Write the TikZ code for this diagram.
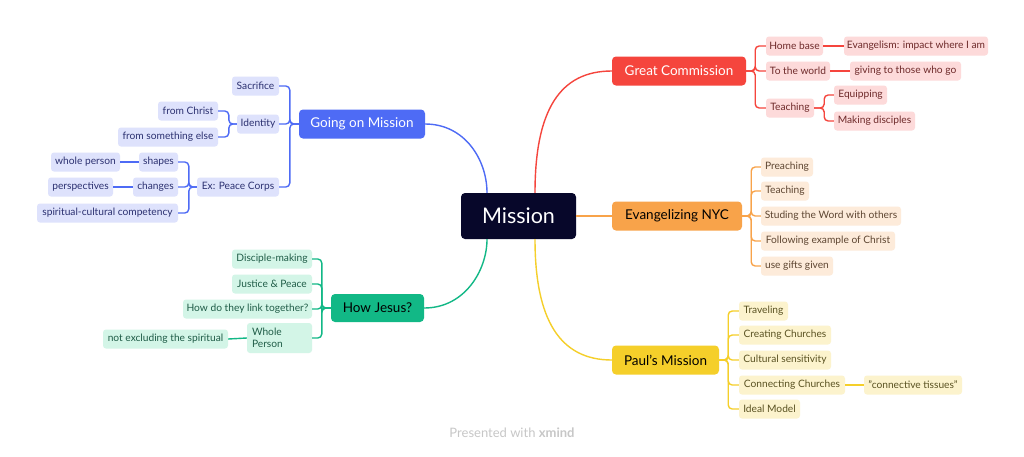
\documentclass[tikz,border=0pt]{standalone}
\usepackage{fontspec}
\setmainfont{Lato}
\definecolor{navy}{HTML}{07072A}
\definecolor{cred}{HTML}{F5453D}
\definecolor{cblue}{HTML}{4E6BF5}
\definecolor{corange}{HTML}{F8A34A}
\definecolor{cyellow}{HTML}{F5CF2A}
\definecolor{cgreen}{HTML}{12B886}
\definecolor{fred}{HTML}{FDDADA}
\definecolor{fblue}{HTML}{DEE2FC}
\definecolor{forange}{HTML}{FDEBDA}
\definecolor{fyellow}{HTML}{FCF3CD}
\definecolor{fgreen}{HTML}{D3F5E7}
\definecolor{tred}{HTML}{6E2A2A}
\definecolor{tblue}{HTML}{2B3070}
\definecolor{torange}{HTML}{5E4632}
\definecolor{tyellow}{HTML}{5A5222}
\definecolor{tgreen}{HTML}{1F5C47}
\tikzset{
  box/.style={rounded corners=3pt, inner sep=0pt, align=center, minimum height=19pt},
  sub/.style={box, font=\fontsize{10.2}{11.5}\selectfont},
  topic/.style={box, rounded corners=4pt, minimum height=29pt, font=\fontsize{13.5}{15}\selectfont},
  rsub/.style={sub, fill=fred, text=tred},
  bsub/.style={sub, fill=fblue, text=tblue},
  osub/.style={sub, fill=forange, text=torange},
  ysub/.style={sub, fill=fyellow, text=tyellow},
  gsub/.style={sub, fill=fgreen, text=tgreen},
  rl/.style={draw=cred, line width=1.4pt, rounded corners=4pt},
  bl/.style={draw=cblue, line width=1.4pt, rounded corners=4pt},
  ol/.style={draw=corange, line width=1.4pt, rounded corners=4pt},
  yl/.style={draw=cyellow, line width=1.4pt, rounded corners=4pt},
  gl/.style={draw=cgreen, line width=1.4pt, rounded corners=4pt},
}
\begin{document}
\begin{tikzpicture}[x=1pt,y=-1pt]
\useasboundingbox[fill=white] (0,0) rectangle (1024,456);
% central
\node[box, fill=navy, text=white, rounded corners=4pt, minimum width=115pt, minimum height=46pt, font=\fontsize{21.5}{25}\selectfont] (m) at (518.5,216) {Mission};
% topics
\node[topic, fill=cred, text=white, minimum width=134pt] (gc) at (679,71) {Great Commission};
\node[topic, fill=corange, text=black, minimum width=130pt] (en) at (677,216) {Evangelizing NYC};
\node[topic, fill=cyellow, text=black, minimum width=107pt] (pm) at (665.5,360) {Paul's Mission};
\node[topic, fill=cblue, text=white, minimum width=126pt] (gm) at (362,124) {Going on Mission};
\node[topic, fill=cgreen, text=black, minimum width=93pt, minimum height=28pt] (hj) at (377.5,308) {How Jesus?};
% central connectors
\draw[rl] ([xshift=16.5pt]m.north) .. controls (535,110) and (560,71) .. (gc.west);
\draw[ol] (m.east) -- (en.west);
\draw[yl] ([xshift=16.5pt]m.south) .. controls (535,320) and (560,360) .. (pm.west);
\draw[bl] ([xshift=-31.5pt]m.north) .. controls (487,160) and (465,124) .. (gm.east);
\draw[gl] ([xshift=-31.5pt]m.south) .. controls (487,270) and (465,308) .. (hj.east);
% red
\node[rsub, minimum width=57pt] (hb) at (794.5,46) {Home base};
\node[rsub, minimum width=144pt] (ev) at (916,46) {Evangelism: impact where I am};
\node[rsub, minimum width=64pt] (tw) at (798,71) {To the world};
\node[rsub, minimum width=111pt] (gv) at (905.5,71) {giving to those who go};
\node[rsub, minimum width=48pt] (te) at (790,108) {Teaching};
\node[rsub, minimum width=53pt] (eq) at (860.5,95) {Equipping};
\node[rsub, minimum width=81pt] (md) at (874.5,121) {Making disciples};
\foreach \c in {hb,tw,te} \draw[rl] (gc.east) -- ++(9,0) |- (\c.west);
\draw[rl] (hb.east) -- (ev.west);
\draw[rl] (tw.east) -- (gv.west);
\foreach \c in {eq,md} \draw[rl] (te.east) -- ++(10,0) |- (\c.west);
% orange
\node[osub, minimum width=52pt] (o1) at (787,167) {Preaching};
\node[osub, minimum width=48pt] (o2) at (785,191) {Teaching};
\node[osub, minimum width=140pt] (o3) at (831,216) {Studing the Word with others};
\node[osub, minimum width=134pt] (o4) at (828,241) {Following example of Christ};
\node[osub, minimum width=72pt] (o5) at (797,266) {use gifts given};
\foreach \c in {o1,o2,o3,o4,o5} \draw[ol] (en.east) -- ++(9,0) |- (\c.west);
% yellow
\node[ysub, minimum width=49pt] (y1) at (763.5,311) {Traveling};
\node[ysub, minimum width=92pt] (y2) at (785,335) {Creating Churches};
\node[ysub, minimum width=92pt] (y3) at (785,360) {Cultural sensitivity};
\node[ysub, minimum width=106pt] (y4) at (792,385) {Connecting Churches};
\node[ysub, minimum width=98pt] (y6) at (913,385) {"connective tissues"};
\node[ysub, minimum width=61pt] (y5) at (769.5,409) {Ideal Model};
\foreach \c in {y1,y2,y3,y4,y5} \draw[yl] (pm.east) -- ++(9,0) |- (\c.west);
\draw[yl] (y4.east) -- (y6.west);
% blue
\node[bsub, minimum width=47pt] (sa) at (255.5,86) {Sacrifice};
\node[bsub, minimum width=42pt] (id) at (258,124) {Identity};
\node[bsub, minimum width=82pt] (pc) at (238,187) {Ex: Peace Corps};
\node[bsub, minimum width=60pt] (fc) at (188,111) {from Christ};
\node[bsub, minimum width=100pt] (fs) at (168,137) {from something else};
\node[bsub, minimum width=39pt] (sh) at (158.5,162) {shapes};
\node[bsub, minimum width=45pt] (ch) at (155.5,187) {changes};
\node[bsub, minimum width=141pt] (sp) at (107.5,213) {spiritual-cultural competency};
\node[bsub, minimum width=69pt] (wp) at (85.5,162) {whole person};
\node[bsub, minimum width=65pt] (pe) at (80.5,187) {perspectives};
\foreach \c in {sa,id,pc} \draw[bl] (gm.west) -- ++(-9,0) |- (\c.east);
\foreach \c in {fc,fs} \draw[bl] (id.west) -- ++(-8,0) |- (\c.east);
\foreach \c in {sh,ch,sp} \draw[bl] (pc.west) -- ++(-8,0) |- (\c.east);
\draw[bl] (sh.west) -- (wp.east);
\draw[bl] (ch.west) -- (pe.east);
% green
\node[gsub, minimum width=80pt] (g1) at (272,259) {Disciple-making};
\node[gsub, minimum width=80pt] (g2) at (272,284) {Justice \& Peace};
\node[gsub, minimum width=129pt] (g3) at (247.5,309) {How do they link together?};
\node[gsub, minimum width=65pt, minimum height=30pt, text width=55pt, align=left] (g4) at (279.5,338) {Whole\\Person};
\node[gsub, minimum width=125pt] (g5) at (165.5,339) {not excluding the spiritual};
\foreach \c in {g1,g2,g3,g4} \draw[gl] (hj.west) -- ++(-9,0) |- (\c.east);
\draw[gl] (g4.west) -- (g5.east);
% footer
\node[text=black!22, font=\fontsize{13}{15}\selectfont, inner sep=0pt] (ft) at (512,433) {Presented with \textbf{xmind}};
\end{tikzpicture}
\end{document}
